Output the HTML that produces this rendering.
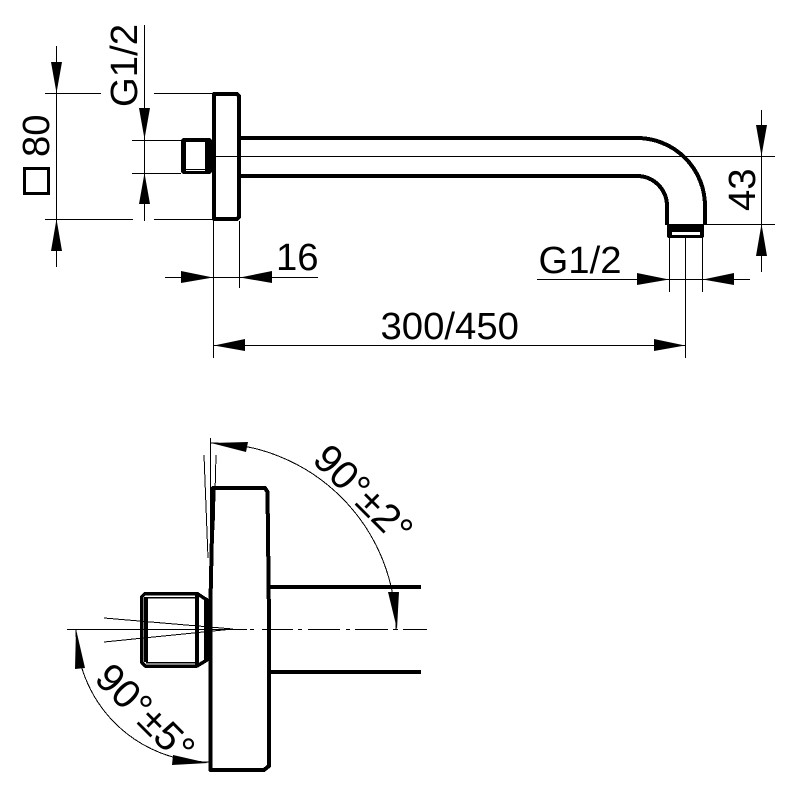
<!DOCTYPE html>
<html><head><meta charset="utf-8"><style>
html,body{margin:0;padding:0;background:#fff}
svg{display:block}
text{font-family:"Liberation Sans",sans-serif;font-size:38.300px;fill:#000}
text.r{font-size:40px}
</style></head><body>
<svg width="788" height="788" viewBox="0 0 788 788" xmlns="http://www.w3.org/2000/svg">
<rect width="788" height="788" fill="#fff"/>
<g fill="none" stroke="#000" stroke-width="4" stroke-linejoin="round" shape-rendering="crispEdges">
<!-- top view -->
<path d="M214 94H237L239 96V217L237 219H214Z"/>
<path d="M241 138H637A68 68 0 0 1 705 206V225"/>
<path d="M241 176H637A30 30 0 0 1 667 206V225"/>
<!-- bottom view -->
<path d="M213 488L210.500 600V770H264L269 766V620L267.500 492L265 488Z" stroke-width="4"/>
<path d="M270 587H421M270 672H421" stroke-width="4"/>
</g>
<!-- top collar -->
<g shape-rendering="crispEdges">
<rect x="667" y="224" width="37" height="14" rx="2" fill="#000"/>
<rect x="672" y="232" width="28" height="3" fill="#fff"/>
<!-- top nipple -->
<rect x="181" y="138" width="31" height="36" rx="3" fill="#000"/>
<rect x="186" y="142" width="19" height="27" fill="#fff"/>
<rect x="186" y="170" width="19" height="1" fill="#fff"/>
</g>
<!-- bottom nipple -->
<g fill="none" stroke="#000" stroke-linejoin="round" shape-rendering="crispEdges">
<path d="M197 593.500H145L141.500 597V662L145 666H197L207 660V600Z" stroke-width="3.500"/>
<path d="M146 597V662M197 594V665M206 598V661" stroke-width="4"/>
<path d="M146 597.500H197M146 662.500H197" stroke-width="1.500"/>
</g>
<g fill="none" stroke="#000" stroke-width="1" shape-rendering="crispEdges">
<!-- centre and extension lines -->
<path d="M212 156.500H775M706 224.500H775"/>
<path d="M45 93.500H101M154 93.500H212M45 219.500H133M154 219.500H212"/>
<path d="M132 140.500H181M132 173.500H181"/>
<path d="M56.500 46V267M144.500 25V221"/>
<path d="M165 277.500H318M213.500 221V358M239.500 221V288"/>
<path d="M537 279.500H750M669.500 238V292M702.500 238V292M685.500 238V358"/>
<path d="M214 345.500H685M761.500 110V272"/>
<!-- bottom centre line -->
<path d="M67 629.500H247M250 629.500H254M262 629.500H293M298 629.500H302M308 629.500H340M346 629.500H350M355 629.500H388M393 629.500H398M403 629.500H427"/>
<path d="M210.500 438V590M204 455L208 558M216 455L214 530"/>
<path d="M104 618L233 629L104 642"/>
<path d="M211 443A186 186 0 0 1 396 629"/>
<path d="M76 629A133 133 0 0 0 209 762"/>
</g>
<g fill="#000" stroke="none">
<path d="M51 62H62L56.500 93ZM51 251H62L56.500 219Z"/>
<path d="M139 108H150L144.500 139ZM139 204H150L144.500 173Z"/>
<path d="M181 271V283L213 277.500ZM272 271V283L240 277.500Z"/>
<path d="M637 273V285L669 279.500ZM734 273V285L703 279.500Z"/>
<path d="M245 339V351L214 345.500ZM654 339V351L685 345.500Z"/>
<path d="M756 125H767L761.500 156ZM756 256H767L761.500 224Z"/>
<path d="M248 442L246 452L211 443Z"/>
<path d="M388 592H399L397 629Z"/>
<path d="M76 629L85 668L75 669Z"/>
<path d="M173 755L172 765L208 763Z"/>
</g>
<rect x="24.500" y="168.500" width="24" height="25" fill="none" stroke="#000" stroke-width="3"/>
<text x="49" y="157" transform="rotate(-90 49 157)">80</text>
<text x="137" y="107" transform="rotate(-90 137 107)">G1/2</text>
<text x="755" y="211" transform="rotate(-90 755 211)">43</text>
<text x="276" y="270">16</text>
<text x="538.500" y="273">G1/2</text>
<text x="380.500" y="339">300/450</text>
<text class="r" x="311" y="461" transform="rotate(45 311 461)">90°±2°</text>
<text class="r" x="93" y="680" transform="rotate(45 93 680)">90°±5°</text>
</svg>
</body></html>
